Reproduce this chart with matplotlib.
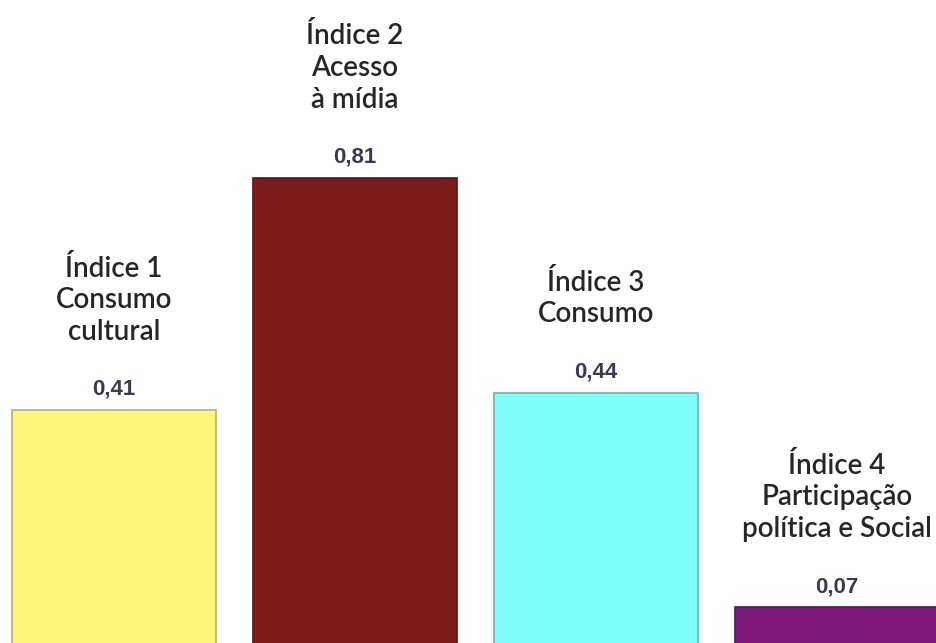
import matplotlib
matplotlib.use("Agg")
import matplotlib.pyplot as plt

# Dados dos índices
rotulos = [
    "Índice 1\nConsumo\ncultural",
    "Índice 2\nAcesso\nà mídia",
    "Índice 3\nConsumo",
    "Índice 4\nParticipação\npolítica e Social",
]
valores = [0.41, 0.81, 0.44, 0.07]
valores_txt = ["0,41", "0,81", "0,44", "0,07"]
cores = ["#FFF77A", "#7E1C1C", "#80FDFD", "#7E1A7C"]
bordas = ["#B8B070", "#5A1414", "#70B0B0", "#5A1458"]

fig = plt.figure(figsize=(9.37, 6.43), dpi=100)
ax = fig.add_axes([0, 0, 1, 1])

x = list(range(len(valores)))
ax.bar(x, valores, width=0.846, color=cores, edgecolor=bordas, linewidth=1.2)

for xi, v, txt, rot in zip(x, valores, valores_txt, rotulos):
    ax.annotate(txt, (xi, v), xytext=(0, 11), textcoords="offset points",
                ha="center", va="baseline", fontsize=16, fontweight="bold",
                color="#3a3a55", family="Liberation Sans")
    ax.annotate(rot, (xi, v), xytext=(0, 47), textcoords="offset points",
                ha="center", va="bottom", fontsize=20, color="#262626",
                family="Lato", fontweight="semibold", linespacing=1.27)

ax.set_xlim(-0.473, 3.415)
ax.set_ylim(0.0086, 1.117)
ax.axis("off")

fig.savefig("out.png", dpi=100, facecolor="white")
